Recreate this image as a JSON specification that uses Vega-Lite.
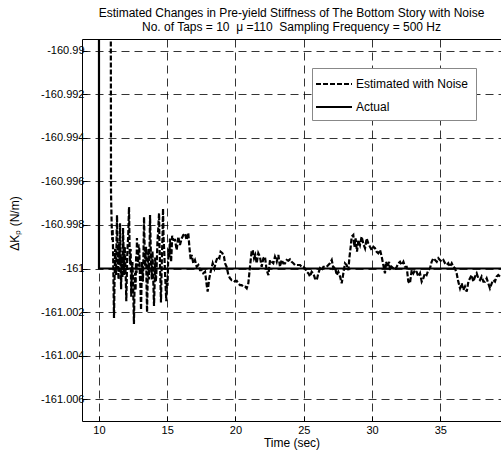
{
"$schema": "https://vega.github.io/schema/vega-lite/v6.json",
"width": 419, "height": 382,
"autosize": {"type": "none"},
"padding": {"left": 82, "top": 39, "right": 0, "bottom": 31},
"background": "white",
"title": {"text": ["Estimated Changes in Pre-yield Stiffness of The Bottom Story with Noise", "No. of Taps = 10\u00a0 μ =110\u00a0 Sampling Frequency = 500 Hz"], "fontSize": 12, "fontWeight": "normal", "font": "Liberation Sans", "color": "black", "lineHeight": 14, "offset": 5, "anchor": "middle"},
"config": {
  "view": {"stroke": "black", "strokeWidth": 1},
  "font": "Liberation Sans",
  "axis": {"grid": true, "gridColor": "#000", "gridDash": [8, 5], "gridWidth": 0.8, "domain": false, "ticks": true, "tickSize": -5, "tickColor": "black", "labelFontSize": 11, "labelColor": "black", "labelFont": "Liberation Sans", "titleFont": "Liberation Sans", "titleFontSize": 12, "titleFontWeight": "normal", "titleColor": "black"}
},
"data": {"values": [
{"t":9.999,"K":-160.95,"s":"a"},{"t":10,"K":-161,"s":"a"},{"t":39.6,"K":-161,"s":"a"},
{"t":10.83,"K":-160.97,"s":"e"},{"t":10.88,"K":-160.99654,"s":"e"},{"t":10.93,"K":-160.998,"s":"e"},{"t":10.97,"K":-160.99869,"s":"e"},{"t":11.00,"K":-160.9982,"s":"e"},{"t":11.04,"K":-160.9995,"s":"e"},{"t":11.07,"K":-161.001,"s":"e"},{"t":11.10,"K":-161.00227,"s":"e"},{"t":11.14,"K":-161.0005,"s":"e"},{"t":11.18,"K":-160.9991,"s":"e"},{"t":11.21,"K":-160.9998,"s":"e"},{"t":11.25,"K":-161.0003,"s":"e"},{"t":11.29,"K":-160.9986,"s":"e"},{"t":11.32,"K":-160.99755,"s":"e"},{"t":11.36,"K":-160.9992,"s":"e"},{"t":11.40,"K":-160.9998,"s":"e"},{"t":11.43,"K":-161.0005,"s":"e"},{"t":11.47,"K":-160.9988,"s":"e"},{"t":11.51,"K":-160.9997,"s":"e"},{"t":11.54,"K":-160.99792,"s":"e"},{"t":11.58,"K":-160.9996,"s":"e"},{"t":11.62,"K":-161.00095,"s":"e"},{"t":11.65,"K":-160.9998,"s":"e"},{"t":11.68,"K":-160.9994,"s":"e"},{"t":11.72,"K":-161.0004,"s":"e"},{"t":11.76,"K":-160.99814,"s":"e"},{"t":11.80,"K":-160.9991,"s":"e"},{"t":11.84,"K":-161.0003,"s":"e"},{"t":11.88,"K":-160.999,"s":"e"},{"t":11.92,"K":-160.9995,"s":"e"},{"t":11.96,"K":-161.0004,"s":"e"},{"t":12.00,"K":-161.0015,"s":"e"},{"t":12.04,"K":-161.0003,"s":"e"},{"t":12.08,"K":-160.9992,"s":"e"},{"t":12.14,"K":-160.9985,"s":"e"},{"t":12.20,"K":-160.99718,"s":"e"},{"t":12.24,"K":-160.999,"s":"e"},{"t":12.28,"K":-160.9998,"s":"e"},{"t":12.32,"K":-160.9991,"s":"e"},{"t":12.36,"K":-161.0013,"s":"e"},{"t":12.40,"K":-161.0002,"s":"e"},{"t":12.45,"K":-160.9997,"s":"e"},{"t":12.50,"K":-161.0008,"s":"e"},{"t":12.56,"K":-161.00255,"s":"e"},{"t":12.60,"K":-161.001,"s":"e"},{"t":12.64,"K":-161.0002,"s":"e"},{"t":12.68,"K":-161.001,"s":"e"},{"t":12.72,"K":-160.9994,"s":"e"},{"t":12.75,"K":-161.0002,"s":"e"},{"t":12.78,"K":-160.9986,"s":"e"},{"t":12.82,"K":-160.9995,"s":"e"},{"t":12.86,"K":-160.9999,"s":"e"},{"t":12.90,"K":-160.9989,"s":"e"},{"t":12.95,"K":-160.9991,"s":"e"},{"t":13.00,"K":-161.0004,"s":"e"},{"t":13.04,"K":-161.0009,"s":"e"},{"t":13.08,"K":-161.0019,"s":"e"},{"t":13.12,"K":-161.0006,"s":"e"},{"t":13.16,"K":-160.9997,"s":"e"},{"t":13.19,"K":-161.0002,"s":"e"},{"t":13.22,"K":-161.0006,"s":"e"},{"t":13.26,"K":-160.9993,"s":"e"},{"t":13.30,"K":-160.99764,"s":"e"},{"t":13.34,"K":-160.999,"s":"e"},{"t":13.38,"K":-160.9999,"s":"e"},{"t":13.41,"K":-160.9994,"s":"e"},{"t":13.45,"K":-160.999,"s":"e"},{"t":13.48,"K":-161.0006,"s":"e"},{"t":13.52,"K":-161.002,"s":"e"},{"t":13.56,"K":-161.0007,"s":"e"},{"t":13.60,"K":-160.9996,"s":"e"},{"t":13.63,"K":-160.9991,"s":"e"},{"t":13.66,"K":-161.0005,"s":"e"},{"t":13.70,"K":-160.9994,"s":"e"},{"t":13.74,"K":-160.99755,"s":"e"},{"t":13.78,"K":-160.9988,"s":"e"},{"t":13.82,"K":-160.9998,"s":"e"},{"t":13.87,"K":-161.0005,"s":"e"},{"t":13.92,"K":-160.9992,"s":"e"},{"t":13.97,"K":-161.0004,"s":"e"},{"t":14.03,"K":-161.00172,"s":"e"},{"t":14.07,"K":-161.0008,"s":"e"},{"t":14.12,"K":-160.9995,"s":"e"},{"t":14.16,"K":-161.0006,"s":"e"},{"t":14.20,"K":-161.0003,"s":"e"},{"t":14.24,"K":-160.9996,"s":"e"},{"t":14.28,"K":-160.9988,"s":"e"},{"t":14.34,"K":-160.9982,"s":"e"},{"t":14.40,"K":-160.99746,"s":"e"},{"t":14.43,"K":-160.9989,"s":"e"},{"t":14.46,"K":-160.9996,"s":"e"},{"t":14.50,"K":-161.0005,"s":"e"},{"t":14.54,"K":-161.00156,"s":"e"},{"t":14.58,"K":-161.0003,"s":"e"},{"t":14.62,"K":-160.9992,"s":"e"},{"t":14.66,"K":-160.9984,"s":"e"},{"t":14.69,"K":-160.99725,"s":"e"},{"t":14.73,"K":-160.9986,"s":"e"},{"t":14.78,"K":-160.9992,"s":"e"},{"t":14.85,"K":-161.0004,"s":"e"},{"t":14.93,"K":-161.0015,"s":"e"},{"t":14.97,"K":-161.0005,"s":"e"},{"t":15.02,"K":-161.0008,"s":"e"},{"t":15.06,"K":-160.9998,"s":"e"},{"t":15.10,"K":-160.9991,"s":"e"},{"t":15.15,"K":-160.9995,"s":"e"},{"t":15.20,"K":-160.99862,"s":"e"},{"t":15.24,"K":-160.9991,"s":"e"},{"t":15.28,"K":-160.9997,"s":"e"},{"t":15.32,"K":-160.9992,"s":"e"},{"t":15.36,"K":-160.9985,"s":"e"},
{"t":15.45,"K":-160.99869,"s":"e"},{"t":15.57,"K":-160.99869,"s":"e"},{"t":15.69,"K":-160.99915,"s":"e"},{"t":15.81,"K":-160.99854,"s":"e"},{"t":15.93,"K":-160.99892,"s":"e"},{"t":16.06,"K":-160.99862,"s":"e"},{"t":16.18,"K":-160.99846,"s":"e"},{"t":16.30,"K":-160.99839,"s":"e"},{"t":16.42,"K":-160.99869,"s":"e"},{"t":16.54,"K":-160.99836,"s":"e"},{"t":16.62,"K":-160.999,"s":"e"},{"t":16.72,"K":-160.99961,"s":"e"},{"t":16.79,"K":-160.99938,"s":"e"},{"t":16.91,"K":-160.99976,"s":"e"},{"t":17.03,"K":-160.99961,"s":"e"},{"t":17.16,"K":-160.99992,"s":"e"},{"t":17.28,"K":-160.99984,"s":"e"},{"t":17.40,"K":-161.00007,"s":"e"},{"t":17.52,"K":-161.00007,"s":"e"},{"t":17.64,"K":-161.00022,"s":"e"},{"t":17.77,"K":-161.00015,"s":"e"},{"t":17.89,"K":-161.00076,"s":"e"},{"t":17.96,"K":-161.00106,"s":"e"},{"t":18.08,"K":-161.00045,"s":"e"},{"t":18.18,"K":-161.00015,"s":"e"},{"t":18.33,"K":-160.99976,"s":"e"},{"t":18.45,"K":-160.99999,"s":"e"},{"t":18.57,"K":-160.99969,"s":"e"},{"t":18.69,"K":-160.99946,"s":"e"},{"t":18.82,"K":-160.99953,"s":"e"},{"t":18.91,"K":-160.99923,"s":"e"},{"t":19.04,"K":-160.9993,"s":"e"},{"t":19.16,"K":-160.99946,"s":"e"},{"t":19.23,"K":-160.99976,"s":"e"},{"t":19.35,"K":-160.99992,"s":"e"},{"t":19.48,"K":-161.0003,"s":"e"},{"t":19.60,"K":-161.00045,"s":"e"},{"t":19.72,"K":-161.00053,"s":"e"},{"t":19.84,"K":-161.00053,"s":"e"},{"t":19.96,"K":-161.0006,"s":"e"},{"t":20.09,"K":-161.00057,"s":"e"},{"t":20.21,"K":-161.00068,"s":"e"},{"t":20.33,"K":-161.00076,"s":"e"},{"t":20.45,"K":-161.00076,"s":"e"},{"t":20.57,"K":-161.00083,"s":"e"},{"t":20.70,"K":-161.00083,"s":"e"},{"t":20.82,"K":-161.00091,"s":"e"},{"t":20.94,"K":-161.00068,"s":"e"},{"t":21.06,"K":-160.99992,"s":"e"},{"t":21.18,"K":-160.99923,"s":"e"},{"t":21.26,"K":-160.99915,"s":"e"},{"t":21.36,"K":-160.99953,"s":"e"},{"t":21.45,"K":-160.99938,"s":"e"},{"t":21.55,"K":-160.99976,"s":"e"},{"t":21.67,"K":-160.9993,"s":"e"},{"t":21.79,"K":-160.99946,"s":"e"},{"t":21.92,"K":-160.99992,"s":"e"},{"t":22.04,"K":-160.99953,"s":"e"},{"t":22.16,"K":-160.99946,"s":"e"},{"t":22.28,"K":-161.00007,"s":"e"},{"t":22.41,"K":-161.0003,"s":"e"},{"t":22.53,"K":-160.99961,"s":"e"},{"t":22.65,"K":-160.99969,"s":"e"},{"t":22.77,"K":-160.99976,"s":"e"},{"t":22.89,"K":-160.99946,"s":"e"},{"t":23.02,"K":-160.99969,"s":"e"},{"t":23.14,"K":-160.99938,"s":"e"},{"t":23.26,"K":-160.99992,"s":"e"},{"t":23.38,"K":-160.99961,"s":"e"},{"t":23.50,"K":-160.99976,"s":"e"},{"t":23.63,"K":-160.99976,"s":"e"},{"t":23.75,"K":-160.99961,"s":"e"},{"t":23.87,"K":-160.99964,"s":"e"},{"t":23.99,"K":-160.99958,"s":"e"},{"t":24.11,"K":-160.99969,"s":"e"},{"t":24.24,"K":-160.99976,"s":"e"},{"t":24.36,"K":-160.99984,"s":"e"},{"t":24.48,"K":-160.99984,"s":"e"},{"t":24.60,"K":-160.99984,"s":"e"},{"t":24.73,"K":-160.99984,"s":"e"},{"t":24.85,"K":-160.99992,"s":"e"},{"t":24.97,"K":-160.99992,"s":"e"},{"t":25.09,"K":-160.99999,"s":"e"},{"t":25.21,"K":-161.00015,"s":"e"},{"t":25.34,"K":-161.00022,"s":"e"},{"t":25.46,"K":-161.00037,"s":"e"},{"t":25.58,"K":-161.00015,"s":"e"},{"t":25.70,"K":-161.00022,"s":"e"},{"t":25.82,"K":-161.00045,"s":"e"},{"t":25.95,"K":-161.00053,"s":"e"},{"t":26.07,"K":-161.00022,"s":"e"},{"t":26.19,"K":-160.99999,"s":"e"},{"t":26.31,"K":-161.00007,"s":"e"},{"t":26.44,"K":-160.99992,"s":"e"},{"t":26.56,"K":-160.99992,"s":"e"},{"t":26.68,"K":-160.99992,"s":"e"},{"t":26.80,"K":-160.99984,"s":"e"},{"t":26.92,"K":-160.99976,"s":"e"},{"t":27.05,"K":-160.99961,"s":"e"},{"t":27.17,"K":-160.99999,"s":"e"},
{"t":27.29,"K":-160.99992,"s":"e"},{"t":27.41,"K":-161.0003,"s":"e"},{"t":27.53,"K":-161.00015,"s":"e"},{"t":27.66,"K":-161.00037,"s":"e"},{"t":27.78,"K":-161.00068,"s":"e"},{"t":27.90,"K":-161.00022,"s":"e"},{"t":28.02,"K":-160.99976,"s":"e"},{"t":28.14,"K":-160.99984,"s":"e"},{"t":28.27,"K":-161.00007,"s":"e"},{"t":28.34,"K":-160.99953,"s":"e"},{"t":28.44,"K":-160.999,"s":"e"},{"t":28.51,"K":-160.99854,"s":"e"},{"t":28.63,"K":-160.99846,"s":"e"},{"t":28.70,"K":-160.999,"s":"e"},{"t":28.80,"K":-160.99862,"s":"e"},{"t":28.90,"K":-160.99923,"s":"e"},{"t":29.00,"K":-160.99869,"s":"e"},{"t":29.12,"K":-160.99892,"s":"e"},{"t":29.24,"K":-160.99854,"s":"e"},{"t":29.36,"K":-160.99885,"s":"e"},{"t":29.49,"K":-160.99907,"s":"e"},{"t":29.61,"K":-160.99862,"s":"e"},{"t":29.73,"K":-160.99885,"s":"e"},{"t":29.85,"K":-160.999,"s":"e"},{"t":29.98,"K":-160.99915,"s":"e"},{"t":30.10,"K":-160.999,"s":"e"},{"t":30.22,"K":-160.99907,"s":"e"},{"t":30.34,"K":-160.99923,"s":"e"},{"t":30.46,"K":-160.9993,"s":"e"},{"t":30.59,"K":-160.99915,"s":"e"},{"t":30.71,"K":-160.99946,"s":"e"},{"t":30.83,"K":-160.99984,"s":"e"},{"t":30.95,"K":-161.00022,"s":"e"},{"t":31.03,"K":-160.99969,"s":"e"},{"t":31.15,"K":-160.99992,"s":"e"},{"t":31.25,"K":-160.99969,"s":"e"},{"t":31.32,"K":-161.00007,"s":"e"},{"t":31.44,"K":-160.99992,"s":"e"},{"t":31.56,"K":-160.99999,"s":"e"},{"t":31.68,"K":-161.00007,"s":"e"},{"t":31.81,"K":-160.99992,"s":"e"},{"t":31.93,"K":-160.99976,"s":"e"},{"t":32.05,"K":-160.99969,"s":"e"},{"t":32.17,"K":-160.99984,"s":"e"},{"t":32.30,"K":-160.99969,"s":"e"},{"t":32.42,"K":-160.99992,"s":"e"},{"t":32.54,"K":-160.99992,"s":"e"},{"t":32.66,"K":-161.0006,"s":"e"},{"t":32.78,"K":-161.00068,"s":"e"},{"t":32.91,"K":-161.00007,"s":"e"},{"t":33.03,"K":-161.00022,"s":"e"},{"t":33.15,"K":-161.00007,"s":"e"},{"t":33.27,"K":-161.00015,"s":"e"},{"t":33.39,"K":-161.00037,"s":"e"},{"t":33.52,"K":-161.00022,"s":"e"},{"t":33.64,"K":-161.0006,"s":"e"},{"t":33.76,"K":-161.00045,"s":"e"},{"t":33.88,"K":-161.00022,"s":"e"},{"t":34.00,"K":-161.0003,"s":"e"},{"t":34.13,"K":-161.00007,"s":"e"},{"t":34.25,"K":-160.99999,"s":"e"},{"t":34.37,"K":-160.99969,"s":"e"},{"t":34.49,"K":-160.99953,"s":"e"},{"t":34.62,"K":-160.99961,"s":"e"},{"t":34.74,"K":-160.99969,"s":"e"},{"t":34.86,"K":-160.99953,"s":"e"},{"t":34.98,"K":-160.99961,"s":"e"},{"t":35.10,"K":-160.99969,"s":"e"},{"t":35.23,"K":-160.99961,"s":"e"},{"t":35.35,"K":-160.99976,"s":"e"},{"t":35.47,"K":-160.99984,"s":"e"},{"t":35.59,"K":-160.99976,"s":"e"},{"t":35.71,"K":-160.99992,"s":"e"},{"t":35.84,"K":-160.99976,"s":"e"},{"t":35.96,"K":-160.99992,"s":"e"},{"t":36.08,"K":-160.99999,"s":"e"},{"t":36.20,"K":-161.00022,"s":"e"},{"t":36.32,"K":-161.0006,"s":"e"},{"t":36.45,"K":-161.00091,"s":"e"},{"t":36.57,"K":-161.00068,"s":"e"},{"t":36.69,"K":-161.00099,"s":"e"},{"t":36.81,"K":-161.00083,"s":"e"},{"t":36.94,"K":-161.00106,"s":"e"},{"t":37.06,"K":-161.0006,"s":"e"},{"t":37.18,"K":-161.00045,"s":"e"},{"t":37.30,"K":-161.0003,"s":"e"},{"t":37.42,"K":-161.0006,"s":"e"},{"t":37.55,"K":-161.00037,"s":"e"},{"t":37.67,"K":-161.00022,"s":"e"},{"t":37.79,"K":-161.00045,"s":"e"},{"t":37.91,"K":-161.00053,"s":"e"},{"t":38.03,"K":-161.00037,"s":"e"},{"t":38.16,"K":-161.0006,"s":"e"},{"t":38.28,"K":-161.0006,"s":"e"},{"t":38.40,"K":-161.00045,"s":"e"},{"t":38.52,"K":-161.00068,"s":"e"},{"t":38.64,"K":-161.00091,"s":"e"},{"t":38.77,"K":-161.00068,"s":"e"},{"t":38.89,"K":-161.00053,"s":"e"},{"t":39.01,"K":-161.0006,"s":"e"},{"t":39.13,"K":-161.00037,"s":"e"},{"t":39.25,"K":-161.0003,"s":"e"},{"t":39.38,"K":-161.00037,"s":"e"},{"t":39.50,"K":-161.0004,"s":"e"}
]},
"mark": {"type": "line", "clip": true, "color": "black", "strokeWidth": 2.2},
"encoding": {
  "x": {"field": "t", "type": "quantitative", "scale": {"domain": [8.755, 39.45], "nice": false, "zero": false},
        "axis": {"values": [10, 15, 20, 25, 30, 35], "title": "Time (sec)", "labelPadding": 8, "titlePadding": 2}},
  "y": {"field": "K", "type": "quantitative", "scale": {"domain": [-161.006995, -160.989472], "nice": false, "zero": false},
        "axis": {"values": [-160.99, -160.992, -160.994, -160.996, -160.998, -161, -161.002, -161.004, -161.006],
                 "labelExpr": "replace(format(datum.value, '.6~r'), '\u2212', '-')", "labelPadding": 3,
                 "title": "ΔKₚ (N/m)", "titleX": -68, "titleY": 184, "titleBaseline": "middle", "titleAlign": "center", "titleAngle": 270}},
  "strokeDash": {"field": "s", "type": "nominal", "scale": {"domain": ["e", "a"], "range": [[5, 2], [1, 0]]},
        "legend": {"orient": "none", "legendX": 230, "legendY": 29, "title": null, "fillColor": "white", "strokeColor": "#888", "padding": 7,
                   "symbolType": "M-2.25,0H2.25", "symbolSize": 256, "symbolOffset": 6, "symbolStrokeWidth": 2, "symbolStrokeColor": "black", "symbolFillColor": "transparent",
                   "labelFontSize": 12, "labelColor": "black", "labelFont": "Liberation Sans", "rowPadding": 8, "labelOffset": 13,
                   "labelExpr": "datum.label == 'e' ? 'Estimated with Noise' : 'Actual'"}}
}
}
